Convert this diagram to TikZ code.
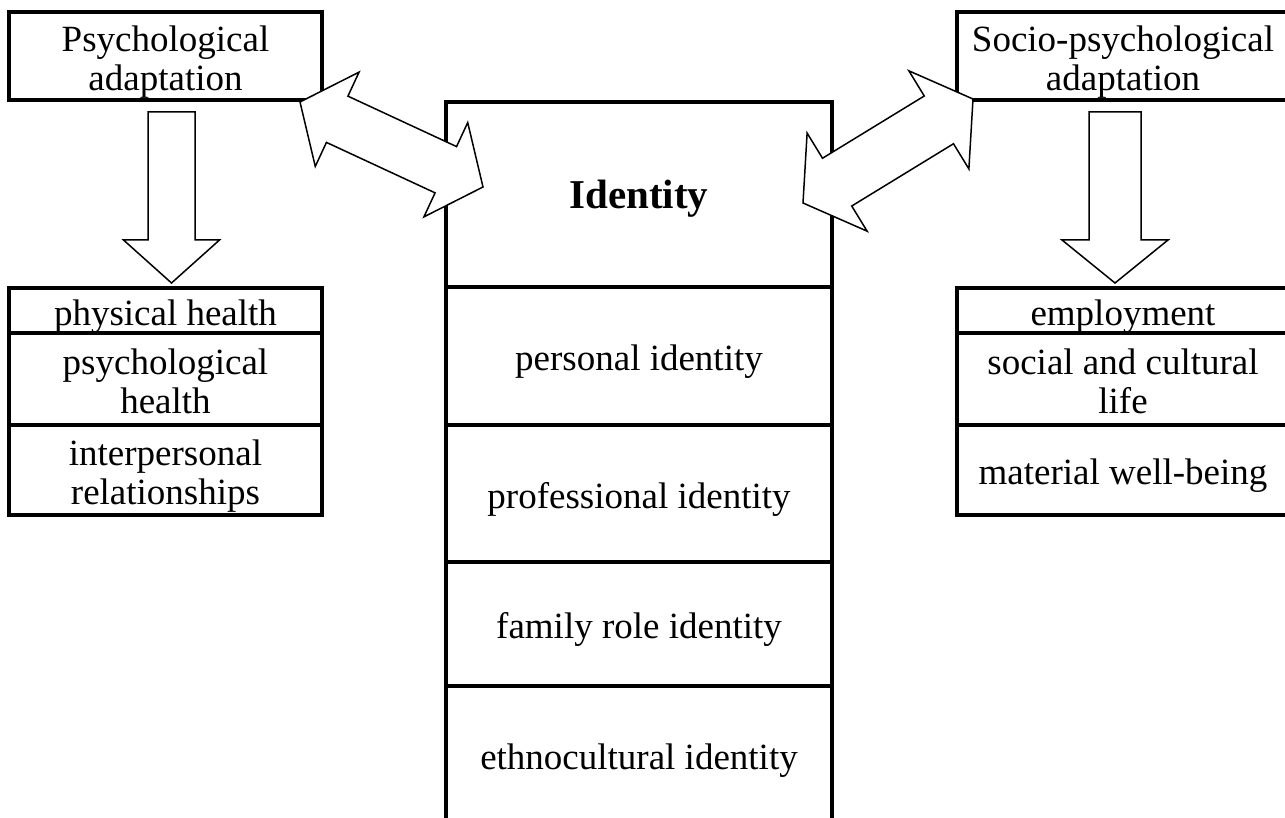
\documentclass[tikz,border=0pt]{standalone}
\usepackage{fontspec}
\setmainfont{Liberation Serif}
\usetikzlibrary{positioning, calc}

\begin{document}
\begin{tikzpicture}[x=1pt,y=-1pt,
  box/.style={draw, line width=4pt, outer sep=0pt, inner sep=0pt, align=flush center,
    font=\fontsize{37}{39}\selectfont,
    execute at begin node={\rule{0pt}{37pt}},
    execute at end node={\rule[-8pt]{0pt}{8pt}}},
  leftbox/.style={box, minimum width=313pt, text width=305pt},
  rightbox/.style={box, minimum width=332pt, text width=325pt},
  idbox/.style={box, minimum width=386pt, text width=380pt},
  % hollow block arrows: head length, head half width, shaft half width
  dblarrow/.style n args={3}{draw, fill=white, line width=1.5pt,
    to path={let \p1=(\tikztostart), \p2=(\tikztotarget),
      \n1={atan2(\y2-\y1,\x2-\x1)}, \n2={veclen(\x2-\x1,\y2-\y1)} in
      {[shift={(\p1)}, rotate=\n1]
        (0,0) -- (#1,#2) -- (#1,#3) -- ({\n2-#1},#3) -- ({\n2-#1},#2) -- (\n2,0)
        -- ({\n2-#1},-#2) -- ({\n2-#1},-#3) -- (#1,-#3) -- (#1,-#2) -- cycle}}},
  sglarrow/.style n args={3}{draw, fill=white, line width=1.5pt,
    to path={let \p1=(\tikztostart), \p2=(\tikztotarget),
      \n1={atan2(\y2-\y1,\x2-\x1)}, \n2={veclen(\x2-\x1,\y2-\y1)} in
      {[shift={(\p1)}, rotate=\n1]
        (0,#3) -- ({\n2-#1},#3) -- ({\n2-#1},#2) -- (\n2,0)
        -- ({\n2-#1},-#2) -- ({\n2-#1},-#3) -- (0,-#3) -- cycle}}}]
  \useasboundingbox (0,0) rectangle (1285,818);
  \clip (0,0) rectangle (1285,818);

  \node[leftbox, minimum height=88.5pt] (psy) at (165.5,56.25) {Psychological\\adaptation};
  \node[rightbox, minimum height=88.5pt] (soc) at (1123,56.25) {Socio-psychological\\adaptation};

  \node[idbox, minimum height=185pt, font=\fontsize{41}{45}\selectfont\bfseries] (ident) at (639,194.5) {Identity};
  \node[idbox, minimum height=138pt, below=0pt of ident] (personal) {personal identity};
  \node[idbox, minimum height=137pt, below=0pt of personal] (prof) {professional identity};
  \node[idbox, minimum height=124pt, below=0pt of prof] (family) {family role identity};
  \node[idbox, minimum height=138pt, below=0pt of family] (ethno) {ethnocultural identity};

  \node[leftbox, minimum height=45pt] (phys) at (165.5,310.5) {physical health};
  \node[leftbox, minimum height=92pt, below=0pt of phys] (psyh) {psychological\\health};
  \node[leftbox, minimum height=90pt, below=0pt of psyh] (inter) {interpersonal\\relationships};

  \node[rightbox, minimum height=45pt] (empl) at (1123,310.5) {employment};
  \node[rightbox, minimum height=92pt, below=0pt of empl] (social) {social and cultural\\life};
  \node[rightbox, minimum height=90pt, below=0pt of social] (wealth) {material well-being};

  \draw[sglarrow={43}{48}{23.5}] ($(psy.south)+(6,11.5)$) to ($(phys.north)+(6,-5)$);
  \draw[sglarrow={43}{53}{26}] ($(soc.south)+(-8,11.5)$) to ($(empl.north)+(-8,-5)$);
  \draw[dblarrow={41}{52}{25.5}] ($(psy.south east)+(-22,1.5)$) to ($(ident.north west)+(37,85)$);
  \draw[dblarrow={40}{57.5}{28}] ($(ident.north east)+(-29,101)$) to ($(soc.south west)+(16,-1.5)$);
\end{tikzpicture}
\end{document}
